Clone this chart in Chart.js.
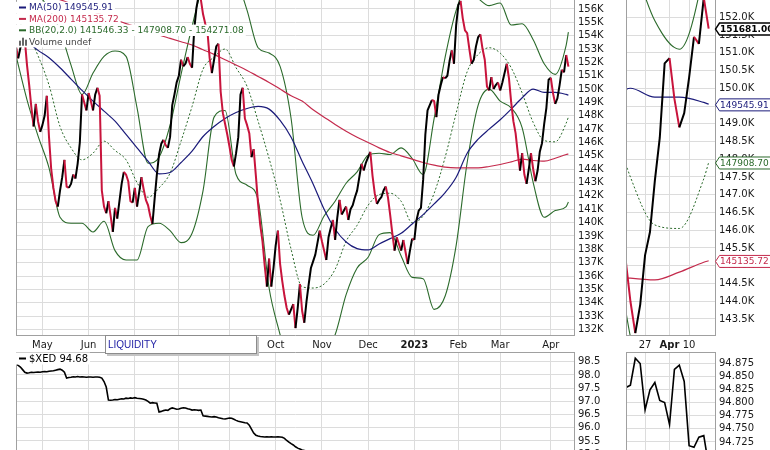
<!DOCTYPE html>
<html><head><meta charset="utf-8">
<script src="https://cdn.jsdelivr.net/npm/chart.js@4.4.1/dist/chart.umd.min.js"></script>
<style>
html,body{margin:0;padding:0;background:#fff;}
body{width:770px;height:450px;overflow:hidden;position:relative;}
canvas{position:absolute;}
#liq{position:absolute;left:105px;top:335px;width:152px;height:19px;box-sizing:border-box;background:#fff;border:1px solid #8c8c8c;box-shadow:2px 2px 0 #c4c4c4;font:10px "Liberation Sans",Arial,sans-serif;color:#2323a6;line-height:17px;padding-left:2px;}
</style></head><body>
<canvas id="cMain" width="620" height="352" style="left:0;top:0"></canvas>
<canvas id="cZoom" width="150" height="352" style="left:620px;top:0"></canvas>
<canvas id="cXed" width="620" height="120" style="left:0;top:352px"></canvas>
<canvas id="cXedZ" width="150" height="120" style="left:620px;top:352px"></canvas>
<div id="liq">LIQUIDITY</div>
<script>
// ---------------- DATA ----------------
// x = trading-day index (0 = mid-Apr 2022 ... 251 = 14 Apr 2023)
const monthIdx = [12,33,54,74,97,118,139,160,181,201,220,243];
const monthLbl = ['May','Jun','Jul','Aug','Sep','Oct','Nov','Dec','2023','Feb','Mar','Apr'];
const zoomIdx = [238,243,247];
const zoomLbl = ['27','Apr','10'];
const mainTicksK = [132,133,134,135,136,137,138,139,140,141,142,143,144,145,146,147,148,149,150,151,152,153,154,155,156];
const zoomTicksK = [143.5,144.0,144.5,145.0,145.5,146.0,146.5,147.0,147.5,148.0,148.5,149.0,149.5,150.0,150.5,151.0,151.5,152.0];
const xedTicks = [94.5,95.0,95.5,96.0,96.5,97.0,97.5,98.0,98.5];
const xedZoomTicks = [94.700,94.725,94.750,94.775,94.800,94.825,94.850,94.875];

// daily close, in thousands
const priceK = [
153.2,152.3,153.1,153.5,153.7,151.8,150.3,148.6,147.2,148.9,
147.6,146.8,147.3,148.0,149.5,146.4,144.0,142.6,141.6,141.2,
142.4,143.4,144.7,142.7,142.6,142.9,143.6,143.3,144.4,146.0,
149.6,149.0,148.4,149.7,149.1,148.4,149.6,150.1,149.5,142.4,
141.2,140.7,141.6,140.5,139.3,141.1,140.3,141.6,142.9,143.8,
143.6,143.1,141.6,141.5,142.6,141.2,142.3,143.4,142.5,141.7,
141.3,140.5,139.9,141.8,143.6,145.1,145.9,146.2,145.8,145.6,
146.4,148.8,149.6,150.5,151.0,152.2,151.7,151.9,152.4,151.9,
151.6,154.5,156.1,157.0,156.7,155.6,154.9,154.3,152.3,151.2,
152.2,153.2,153.4,149.8,148.2,147.4,146.6,145.7,144.7,144.2,
145.2,146.4,149.6,150.1,147.8,147.3,146.7,144.9,145.5,143.5,
141.4,139.8,138.6,136.8,135.2,137.3,135.2,136.6,138.3,139.4,
136.9,135.6,134.5,133.6,133.1,133.5,133.9,132.1,133.6,135.4,
133.4,132.5,134.1,135.4,136.6,137.1,137.6,138.5,139.4,138.6,
137.9,137.2,138.9,139.6,140.2,138.7,140.4,141.7,140.6,140.9,
141.2,140.2,141.0,141.3,141.9,142.4,143.4,144.4,143.9,144.5,
144.9,145.3,143.5,142.2,141.4,141.7,141.9,142.4,142.7,141.9,
140.6,139.2,137.9,138.9,138.4,137.9,138.7,137.8,136.9,137.9,
138.8,138.7,140.2,140.9,141.1,143.2,146.6,148.4,148.8,149.2,
149.1,147.9,149.6,150.3,150.9,150.8,151.0,152.1,152.9,151.9,
154.8,156.3,156.6,155.3,154.4,154.2,153.0,151.9,152.2,153.2,
153.9,154.1,153.0,152.2,150.2,149.9,150.9,150.0,150.3,150.5,
149.9,150.5,151.2,151.9,150.8,149.0,147.6,146.7,145.2,143.9,
145.2,143.6,142.9,144.0,145.2,144.0,143.1,143.9,145.3,145.95,
147.4,148.6,150.7,150.85,149.7,148.9,149.3,150.3,151.45,151.25,
152.55,151.68
];

// indicators read every 5 trading days (last entry = final day)
const indStep = 5;
const ma50K = [154.2,153.6,152.9,152.35,151.6,150.75,149.9,149.1,148.35,147.6,
146.6,145.6,144.6,143.65,143.75,144.5,145.35,146.45,147.2,147.8,
148.25,148.55,148.7,148.5,147.65,146.4,144.6,142.9,141.0,139.5,
138.55,138.05,137.95,138.4,138.8,139.2,139.9,140.6,141.4,142.25,
143.4,145.2,146.25,147.0,147.7,148.5,149.35,150.0,149.75,149.75,
149.6,149.55];
const ma200K = [157.8,157.5,157.25,156.95,156.7,156.4,156.1,155.8,155.5,155.2,
154.9,154.65,154.35,154.05,153.8,153.55,153.3,152.95,152.6,152.2,
151.8,151.4,150.95,150.5,150.0,149.5,149.1,148.45,147.9,147.35,
146.85,146.4,146.0,145.6,145.25,145.0,144.75,144.5,144.3,144.15,
144.1,144.1,144.1,144.2,144.35,144.55,144.75,144.65,144.6,144.82,
145.1,145.14];
const bbUpperK = [158.1,157.7,157.1,156.0,154.4,151.8,149.6,151.2,152.45,152.85,
152.45,148.6,144.45,144.9,147.3,151.1,154.7,157.8,159.3,159.6,
158.3,155.9,153.1,152.7,151.7,147.8,140.4,139.05,140.5,141.6,
142.95,143.8,145.05,145.2,145.1,145.6,144.8,143.6,147.8,152.4,
155.9,157.6,156.8,156.25,156.45,154.8,154.9,153.7,151.9,151.1,
153.3,154.27];
const bbMidK = [155.3,154.2,152.5,150.3,147.2,145.6,144.7,145.2,146.1,145.4,
144.7,143.0,141.9,142.6,143.7,146.1,148.7,151.5,152.4,153.0,
151.6,150.2,147.6,144.8,141.7,138.0,135.2,135.1,135.4,136.5,
138.6,139.8,141.3,142.1,142.2,141.6,140.0,140.5,142.2,144.9,
148.2,151.3,152.6,153.1,152.7,151.6,149.7,147.5,146.15,146.05,
147.45,147.91];
const bbLowerK = [152.5,149.2,146.5,144.1,140.4,139.95,139.95,139.3,140.1,137.9,
137.2,137.2,139.7,139.95,139.4,138.5,139.2,142.4,147.9,148.4,
143.6,142.8,141.7,135.1,131.6,128.3,130.0,131.1,130.3,131.6,
134.6,136.6,137.4,139.1,139.25,137.5,135.9,135.8,133.5,134.5,
138.3,144.5,148.8,150.0,149.1,148.6,147.1,143.0,140.4,140.9,
141.2,141.55];

// $XED daily
const xed = [
98.40,98.36,98.30,98.20,98.10,98.07,98.08,98.10,98.09,98.10,
98.11,98.10,98.12,98.13,98.12,98.14,98.15,98.16,98.18,98.20,
98.22,98.18,98.10,97.88,97.90,97.91,97.93,97.92,97.94,97.92,
97.93,97.92,97.91,97.92,97.92,97.91,97.92,97.92,97.91,97.88,
97.75,97.54,97.05,97.04,97.05,97.07,97.06,97.08,97.10,97.09,
97.12,97.11,97.13,97.12,97.14,97.12,97.11,97.10,97.08,97.05,
97.00,96.93,96.95,96.94,96.93,96.60,96.62,96.65,96.67,96.66,
96.72,96.75,96.73,96.70,96.71,96.74,96.76,96.75,96.72,96.70,
96.67,96.68,96.67,96.66,96.67,96.45,96.44,96.43,96.42,96.41,
96.42,96.41,96.38,96.36,96.34,96.33,96.35,96.37,96.36,96.32,
96.28,96.25,96.23,96.21,96.19,96.18,96.10,95.95,95.80,95.72,
95.69,95.67,95.66,95.65,95.66,95.65,95.66,95.65,95.65,95.66,
95.65,95.64,95.60,95.52,95.46,95.40,95.35,95.28,95.23,95.20,
95.16,95.14,95.12,95.10,95.09,95.08,95.07,95.05,95.04,95.03,
95.02,95.01,95.00,94.99,94.98,94.98,94.97,94.96,94.96,94.95,
94.95,94.94,94.94,94.93,94.93,94.92,94.92,94.91,94.91,94.90,
94.90,94.90,94.89,94.89,94.89,94.88,94.88,94.88,94.87,94.87,
94.87,94.87,94.86,94.86,94.86,94.86,94.85,94.85,94.85,94.85,
94.85,94.85,94.84,94.84,94.84,94.85,94.86,94.85,94.85,94.84,
94.84,94.85,94.86,94.85,94.85,94.86,94.86,94.85,94.85,94.86,
94.86,94.87,94.86,94.86,94.85,94.85,94.86,94.86,94.87,94.86,
94.86,94.85,94.85,94.84,94.85,94.85,94.86,94.85,94.84,94.84,
94.85,94.85,94.84,94.84,94.83,94.84,94.84,94.83,94.83,94.84,
94.83,94.82,94.83,94.826,
94.828,94.833,94.884,94.874,94.786,94.824,94.838,94.804,94.800,94.758,
94.863,94.871,94.840,94.718,94.715,94.734,94.737,94.680
];

const lastVals = {close:151681.00, ma50:149545.91, ma200:145135.72, bbLow:141546.33, bbMid:147908.70, bbUp:154271.08, xed:94.68};

// ---------------- STYLE ----------------
const FONT = '"DejaVu Sans", Verdana, sans-serif';
const COL = {up:'#000000', down:'#c8143c', ma50:'#1b1b7a', ma200:'#c42a4c', bb:'#2b6a2b', grid:'#dcdcdc', frame:'#a0a0a0', text:'#1a1a1a'};

const dayIdx = priceK.map((_, i) => i);
const indIdx = ma50K.map((_, i) => Math.min(i * indStep, priceK.length - 1));
const pts = (xs, ys) => ys.map((v, i) => ({x: xs[i], y: v}));

function priceDS() {
  return {data: pts(dayIdx, priceK), borderWidth: 2, pointRadius: 0, tension: 0, clip: 0,
    borderColor: COL.up, borderJoinStyle: 'round',
    segment: {borderColor: c => c.p1.parsed.y < c.p0.parsed.y ? COL.down : COL.up}};
}
function lineDS(ys, color, w, dash) {
  return {data: pts(indIdx, ys), borderColor: color, borderWidth: w, borderDash: dash || [],
    pointRadius: 0, cubicInterpolationMode: 'monotone', clip: 0};
}
function yAxis(min, max, ticks, fmt, width) {
  return {position: 'right', min, max,
    afterBuildTicks: s => { s.ticks = ticks.map(v => ({value: v})); },
    afterFit: s => { s.width = width; s.paddingTop = 0; s.paddingBottom = 0; },
    ticks: {padding: 3, autoSkip: false, color: COL.text, font: {family: FONT, size: 10}, callback: fmt},
    grid: {color: COL.grid, drawTicks: false}, border: {display: false}};
}
function xAxis(min, max, ticks, labels, show, boldSet) {
  return {type: 'linear', min, max,
    afterBuildTicks: s => { s.ticks = ticks.map(v => ({value: v})); },
    afterFit: s => { s.height = show ? 16 : 0; s.paddingLeft = 0; s.paddingRight = 0; },
    ticks: {display: show, autoSkip: false, maxRotation: 0, minRotation: 0, padding: 3, color: COL.text,
      font: c => ({family: FONT, size: 10, weight: boldSet.includes(labels[c.index]) ? 'bold' : 'normal'}),
      callback: (v, i) => labels[i]},
    grid: {color: COL.grid, drawTicks: false}, border: {display: false}};
}
const framePlugin = {
  id: 'frame',
  afterDatasetsDraw(chart, args, o) {
    const {ctx, chartArea: a} = chart;
    const L = Math.round(a.left) + 0.5, R = Math.round(a.right) - 0.5, T = Math.round(a.top) + 0.5, B = Math.round(a.bottom) - 0.5;
    ctx.save(); ctx.strokeStyle = COL.frame; ctx.lineWidth = 1; ctx.beginPath();
    if (o.left) { ctx.moveTo(L, a.top); ctx.lineTo(L, a.bottom); }
    if (o.right) { ctx.moveTo(R, a.top); ctx.lineTo(R, a.bottom); }
    if (o.top) { ctx.moveTo(a.left, T); ctx.lineTo(a.right, T); }
    if (o.bottom) { ctx.moveTo(a.left, B); ctx.lineTo(a.right, B); }
    ctx.stroke(); ctx.restore();
  }
};
function legendRows(ctx, rows, x, y0, dy, size) {
  ctx.save();
  ctx.font = size + 'px ' + FONT; ctx.textBaseline = 'middle';
  rows.forEach((r, i) => {
    const y = y0 + i * dy, w = ctx.measureText(r.text).width;
    ctx.fillStyle = '#fff'; ctx.fillRect(x - 1, y - dy / 2, w + 15, dy);
    if (r.icon === 'bars') {
      ctx.fillStyle = '#666';
      ctx.fillRect(x + 2, y - 1, 2, 5); ctx.fillRect(x + 5, y - 4, 2, 8); ctx.fillRect(x + 8, y - 2, 2, 6);
    } else {
      ctx.fillStyle = r.color; ctx.fillRect(x + 2, y - 1, 7, 2);
    }
    ctx.fillStyle = r.color; ctx.fillText(r.text, x + 12, y + 0.5);
  });
  ctx.restore();
}
const mainLegend = {
  id: 'mainLegend',
  afterDraw(chart) {
    legendRows(chart.ctx, [
      {text: 'MA(50) ' + lastVals.ma50.toFixed(2), color: COL.ma50},
      {text: 'MA(200) ' + lastVals.ma200.toFixed(2), color: COL.ma200},
      {text: 'BB(20,2.0) ' + lastVals.bbLow.toFixed(2) + ' - ' + lastVals.bbMid.toFixed(2) + ' - ' + lastVals.bbUp.toFixed(2), color: COL.bb},
      {text: 'Volume undef', color: '#444', icon: 'bars'}
    ], 17, 7.5, 11.4, 9);
  }
};
const xedLegend = {
  id: 'xedLegend',
  afterDraw(chart) {
    legendRows(chart.ctx, [{text: '$XED ' + lastVals.xed.toFixed(2), color: '#000'}], 17, 6.5, 12, 10);
  }
};
function drawTag(ctx, x0, y, text, color, bold) {
  ctx.save();
  ctx.font = (bold ? 'bold ' : '') + '9px ' + FONT;
  const w = ctx.measureText(text).width + 8, h = 12;
  ctx.beginPath();
  ctx.moveTo(x0 + 0.5, y + 0.5); ctx.lineTo(x0 + 4.5, y - h / 2 + 0.5); ctx.lineTo(x0 + 4.5 + w, y - h / 2 + 0.5);
  ctx.lineTo(x0 + 4.5 + w, y + h / 2 + 0.5); ctx.lineTo(x0 + 4.5, y + h / 2 + 0.5); ctx.closePath();
  ctx.fillStyle = '#fff'; ctx.fill(); ctx.strokeStyle = color; ctx.lineWidth = bold ? 1.5 : 1; ctx.stroke();
  ctx.fillStyle = color; ctx.textBaseline = 'middle'; ctx.fillText(text, x0 + 5, y + 1);
  ctx.restore();
}
const tagPlugin = {
  id: 'tags',
  afterDraw(chart) {
    const y = chart.scales.y, x0 = Math.round(chart.chartArea.right) - 1, ctx = chart.ctx;
    drawTag(ctx, x0, y.getPixelForValue(lastVals.ma200 / 1000), lastVals.ma200.toFixed(2), COL.ma200, false);
    drawTag(ctx, x0, y.getPixelForValue(lastVals.bbMid / 1000), lastVals.bbMid.toFixed(2), COL.bb, false);
    drawTag(ctx, x0, y.getPixelForValue(lastVals.ma50 / 1000), lastVals.ma50.toFixed(2), COL.ma50, false);
    drawTag(ctx, x0, y.getPixelForValue(lastVals.close / 1000), lastVals.close.toFixed(2), '#000', true);
  }
};
function baseOpts(padLeft, scales, frame) {
  return {responsive: false, animation: false, events: [],
    layout: {padding: {left: padLeft, top: 0, right: 0, bottom: 0}},
    plugins: {legend: {display: false}, tooltip: {enabled: false}, frame: frame},
    scales: scales};
}
function priceDatasets() {
  return [
    priceDS(),
    lineDS(ma50K, COL.ma50, 1.2),
    lineDS(ma200K, COL.ma200, 1.2),
    lineDS(bbUpperK, COL.bb, 1.1),
    lineDS(bbLowerK, COL.bb, 1.1),
    lineDS(bbMidK, COL.bb, 1, [2, 2])
  ];
}

// ---------------- CHARTS ----------------
new Chart(document.getElementById('cMain'), {
  type: 'line',
  data: {datasets: priceDatasets()},
  options: baseOpts(16, {
    x: xAxis(0, 254, monthIdx, monthLbl, true, ['2023']),
    y: yAxis(131.506, 156.674, mainTicksK, v => v + 'K', 45)
  }, {left: true, right: true, bottom: true}),
  plugins: [framePlugin, mainLegend]
});

new Chart(document.getElementById('cZoom'), {
  type: 'line',
  data: {datasets: priceDatasets()},
  options: baseOpts(6, {
    x: xAxis(234.1, 252.5, zoomIdx, zoomLbl, true, ['Apr']),
    y: yAxis(143.021, 152.486, zoomTicksK, v => v.toFixed(1) + 'K', 54)
  }, {left: true, right: true, bottom: true}),
  plugins: [framePlugin, tagPlugin]
});

function xedDS() {
  return {data: pts(dayIdx, xed), borderColor: '#000', borderWidth: 1.6, pointRadius: 0, tension: 0, clip: 0};
}
new Chart(document.getElementById('cXed'), {
  type: 'line',
  data: {datasets: [xedDS()]},
  options: baseOpts(16, {
    x: xAxis(0, 254, monthIdx, monthLbl, false, []),
    y: yAxis(94.327, 98.867, xedTicks, v => v.toFixed(1), 45)
  }, {left: true, right: true, top: true}),
  plugins: [framePlugin, xedLegend]
});

new Chart(document.getElementById('cXedZ'), {
  type: 'line',
  data: {datasets: [xedDS()]},
  options: baseOpts(6, {
    x: xAxis(234.1, 252.5, zoomIdx, zoomLbl, false, []),
    y: yAxis(94.668, 94.8959, xedZoomTicks, v => v.toFixed(3), 54)
  }, {left: true, right: true, top: true}),
  plugins: [framePlugin]
});
</script>
</body></html>
